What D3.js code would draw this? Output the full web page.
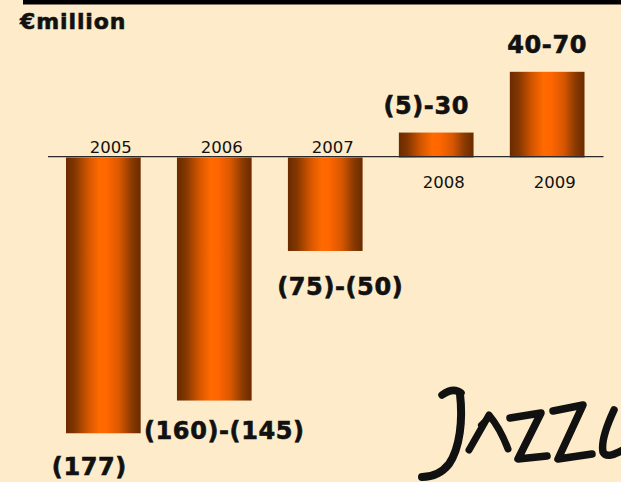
<!DOCTYPE html>
<html>
<head>
<meta charset="utf-8">
<script src="https://cdn.jsdelivr.net/npm/d3@7"></script>
<style>
  html, body { margin: 0; padding: 0; background: #FDEBC9; }
  svg { display: block; }
</style>
</head>
<body>
<script>
// Net result per year, € million (ranges shown as labels for forecast years)
const years = ["2005", "2006", "2007", "2008", "2009"];
const netResult = [-177, -156, -60, 16, 55];
const rangeLabels = ["(177)", "(160)-(145)", "(75)-(50)", "(5)-30", "40-70"];
const unitLabel = "€million";

const W = 621, H = 482;
const bg = "#FDEBC9";

// Label nudges (dx from bar centre, dy from bar end)
const labelNudge = [[-14, 42], [10, 38], [15, 44.5], [-10, -18.5], [0, -19.3]];

const svg = d3.select("body").append("svg")
  .attr("width", W).attr("height", H);

svg.append("rect").attr("width", W).attr("height", H).attr("fill", bg);

// Black rule along the top edge
svg.append("rect").attr("x", 23).attr("y", 0).attr("width", W - 23).attr("height", 4.5).attr("fill", "#000");

// Horizontal shading for the bars
const defs = svg.append("defs");
const grad = defs.append("linearGradient").attr("id", "barGrad")
  .attr("x1", "0").attr("x2", "1").attr("y1", "0").attr("y2", "0");
[[0, "#6A2A00"], [0.12, "#843700"], [0.3, "#D55600"], [0.45, "#FF6A00"],
 [0.55, "#FF6600"], [0.72, "#D85700"], [0.88, "#8A3A00"], [1, "#6A2A00"]]
  .forEach(([o, c]) => grad.append("stop").attr("offset", o).attr("stop-color", c));

const x = d3.scaleBand().domain(years).range([66, 584.5]).paddingInner(0.327).paddingOuter(0);
const y = d3.scaleLinear().domain([-200, 100]).range([469.1, 1.7]);

const data = years.map((yr, i) => ({ yr, v: netResult[i], label: rangeLabels[i], nudge: labelNudge[i] }));

// Bars
svg.append("g").selectAll("rect").data(data).join("rect")
  .attr("x", d => x(d.yr))
  .attr("width", x.bandwidth())
  .attr("y", d => Math.min(y(d.v), y(0)))
  .attr("height", d => Math.abs(y(d.v) - y(0)))
  .attr("fill", "url(#barGrad)");

// Zero line
svg.append("line")
  .attr("x1", x.range()[0] - 18).attr("x2", x.range()[1] + 19)
  .attr("y1", y(0) - 0.8).attr("y2", y(0) - 0.8)
  .attr("stroke", "#2a2a2a").attr("stroke-width", 1.3);

// Year labels: above the line for losses, below for profits
svg.append("g").selectAll("text").data(data).join("text")
  .attr("x", d => x(d.yr) + x.bandwidth() / 2 + 7.5)
  .attr("y", d => d.v < 0 ? y(0) - 4.2 : y(0) + 30.8)
  .attr("text-anchor", "middle")
  .attr("font-family", "DejaVu Sans, Verdana, sans-serif")
  .attr("font-size", 16.5)
  .attr("fill", "#111")
  .text(d => d.yr);

// Value range labels
svg.append("g").selectAll("text").data(data).join("text")
  .attr("x", d => x(d.yr) + x.bandwidth() / 2 + d.nudge[0])
  .attr("y", d => y(d.v) + d.nudge[1])
  .attr("text-anchor", "middle")
  .attr("font-family", "DejaVu Sans, Verdana, sans-serif")
  .attr("font-weight", "bold")
  .attr("font-size", 24)
  .attr("letter-spacing", 0.6)
  .attr("fill", "#111")
  .attr("stroke", "#111").attr("stroke-width", 0.6)
  .text(d => d.label);

// Unit caption
svg.append("text")
  .attr("x", 20).attr("y", 29)
  .attr("font-family", "DejaVu Sans, Verdana, sans-serif")
  .attr("font-weight", "bold")
  .attr("font-size", 22)
  .attr("letter-spacing", 0.9)
  .attr("fill", "#111")
  .attr("stroke", "#111").attr("stroke-width", 0.6)
  .text(unitLabel);

// Brush-lettered brand mark, bottom right
const logo = svg.append("g").attr("transform", "translate(410,380)")
  .attr("fill", "none").attr("stroke", "#111")
  .attr("stroke-linecap", "round").attr("stroke-linejoin", "round");
logo.append("path").attr("d", "M32,15 C39,10 46,9 51,13").attr("stroke-width", 7.5);
logo.append("path").attr("d", "M50,14 C53,40 50,68 39,84 C31,94 21,97 12,97").attr("stroke-width", 8);
logo.append("path").attr("d", "M59,70 L79,35 Q90,48 98,69").attr("stroke-width", 7);
logo.append("path").attr("d", "M70,45 Q76,38 82,39").attr("stroke-width", 4.5);
logo.append("path").attr("d", "M100,38 L131,33 L108,79 L137,76").attr("stroke-width", 7.5);
logo.append("path").attr("d", "M143,31 L173,25 L148,79 L182,74").attr("stroke-width", 7.5);
logo.append("path").attr("d", "M204,30 C197,45 191,62 193,72 C196,78 204,75 213,70").attr("stroke-width", 7.5);
</script>
</body>
</html>
